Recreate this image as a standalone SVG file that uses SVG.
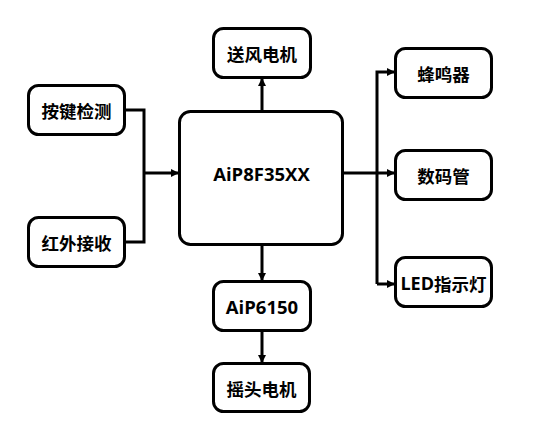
<svg xmlns="http://www.w3.org/2000/svg" width="537" height="434" viewBox="0 0 537 434">
<defs>
<style>
.box{fill:#fff;stroke:#000;stroke-width:3}
.t{font-family:"Noto Sans CJK SC","Noto Sans",sans-serif;font-weight:bold;font-size:17.5px;fill:#000;text-anchor:middle;dominant-baseline:central}
.l{font-family:"Open Sans","Noto Sans CJK SC",sans-serif;font-weight:bold;font-size:18.5px;fill:#000;text-anchor:middle;dominant-baseline:central}
.c{fill:none;stroke:#000;stroke-width:3}
</style>
<marker id="ah" markerUnits="userSpaceOnUse" markerWidth="10" markerHeight="10" viewBox="0 0 10 10" refX="9" refY="5" orient="auto">
<path d="M1,1 L9,5 L1,9 Z" fill="#000"/>
</marker>
</defs>
<rect width="537" height="434" fill="#fff"/>
<g id="connectors">
<polyline class="c" points="125,110 144,110 144,242 125,242"/>
<line class="c" x1="144" y1="173" x2="179" y2="173" marker-end="url(#ah)"/>
<line class="c" x1="262" y1="111" x2="262" y2="78" marker-end="url(#ah)"/>
<line class="c" x1="343" y1="173" x2="395" y2="173" marker-end="url(#ah)"/>
<polyline class="c" points="377,284 377,72 395,72" marker-end="url(#ah)"/>
<line class="c" x1="377" y1="284" x2="395" y2="284" marker-end="url(#ah)"/>
<line class="c" x1="262" y1="245" x2="262" y2="281" marker-end="url(#ah)"/>
<line class="c" x1="262" y1="331" x2="262" y2="363" marker-end="url(#ah)"/>
</g>
<g id="main"><rect class="box" x="179.5" y="111.5" width="163" height="133" rx="11"/><text class="l" x="261.5" y="173">AiP8F35XX</text></g>
<g id="key"><rect class="box" x="28.5" y="85.5" width="96" height="49" rx="10"/><text class="t" x="76.5" y="110">按键检测</text></g>
<g id="ir"><rect class="box" x="28.5" y="217.5" width="96" height="49" rx="10"/><text class="t" x="76.5" y="242">红外接收</text></g>
<g id="fan"><rect class="box" x="213.5" y="28.5" width="97" height="49" rx="10"/><text class="t" x="262" y="53">送风电机</text></g>
<g id="buzzer"><rect class="box" x="395.5" y="48.5" width="96" height="49" rx="10"/><text class="t" x="443.5" y="73">蜂鸣器</text></g>
<g id="digit"><rect class="box" x="395.5" y="150.5" width="96" height="49" rx="10"/><text class="t" x="443.5" y="175">数码管</text></g>
<g id="led"><rect class="box" x="395.5" y="257.5" width="96" height="49" rx="10"/><text class="t" x="443.5" y="283"><tspan font-family="Open Sans, sans-serif" font-size="18px">LED</tspan>指示灯</text></g>
<g id="aip6150"><rect class="box" x="213.5" y="281.5" width="97" height="49" rx="10"/><text class="l" x="262" y="306">AiP6150</text></g>
<g id="swing"><rect class="box" x="213.5" y="363.5" width="96" height="48" rx="10"/><text class="t" x="261.5" y="388">摇头电机</text></g>
</svg>
